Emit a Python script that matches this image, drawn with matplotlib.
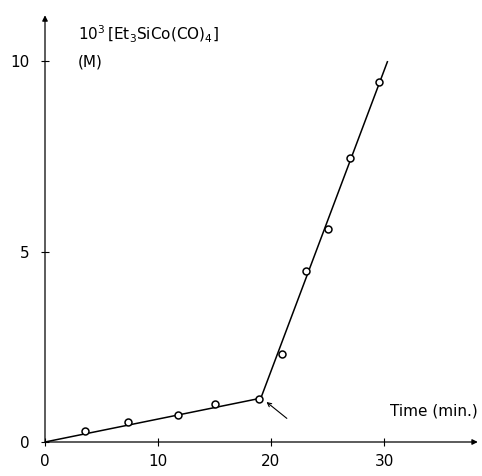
import matplotlib.pyplot as plt

# measured points (time in min, 10^3 [Et3SiCo(CO)4] in M)
time_pts = [3.5, 7.35, 11.8, 15.0, 18.9, 21.0, 23.1, 25.0, 27.0, 29.6]
conc_pts = [0.29, 0.53, 0.71, 1.00, 1.13, 2.31, 4.49, 5.59, 7.45, 9.45]

# fitted lines (as drawn)
line_x = [0, 19.1, 30.3]
line_y = [0, 1.15, 9.98]

x_ticks = [0, 10, 20, 30]
y_ticks = [0, 5, 10]

fig = plt.figure(figsize=(4.82, 4.76), dpi=100)
ax = fig.add_axes([45 / 482, 34 / 476, 437 / 482, 430 / 476])
ax.set_xlim(0, 437 / 11.3)
ax.set_ylim(0, 430 / 38.1)

for s in ax.spines.values():
    s.set_visible(False)

# axes drawn as arrows
ax.annotate('', xy=(38.3, 0), xytext=(0, 0),
            arrowprops=dict(arrowstyle='-|>', color='black', lw=0.9,
                            mutation_scale=8, shrinkA=0, shrinkB=0),
            annotation_clip=False)
ax.annotate('', xy=(0, 11.2), xytext=(0, 0),
            arrowprops=dict(arrowstyle='-|>', color='black', lw=0.9,
                            mutation_scale=8, shrinkA=0, shrinkB=0),
            annotation_clip=False)

ax.plot(line_x, line_y, color='black', lw=1.1, zorder=2)
ax.plot(time_pts, conc_pts, 'o', mfc='white', mec='black', ms=5, mew=1.1, zorder=3)

# arrow marking the break point
ax.annotate('', xy=(19.6, 1.05), xytext=(21.4, 0.62),
            arrowprops=dict(arrowstyle='->', color='black', lw=0.8,
                            mutation_scale=7, shrinkA=0, shrinkB=0))

ax.set_xticks(x_ticks)
ax.set_yticks(y_ticks)
ax.tick_params(direction='inout', length=6, width=0.8, labelsize=11, pad=4)
ax.tick_params(axis='x', pad=6)
ax.tick_params(axis='y', pad=8)

ax.text(2.9, 10.7, r'$10^3\,$[Et$_3$SiCo(CO)$_4$]', fontsize=11, va='center')
ax.text(2.9, 9.98, '(M)', fontsize=11, va='center')
ax.text(38.3, 0.82, 'Time (min.)', fontsize=11, ha='right', va='center')

plt.savefig('out.png', dpi=100)
